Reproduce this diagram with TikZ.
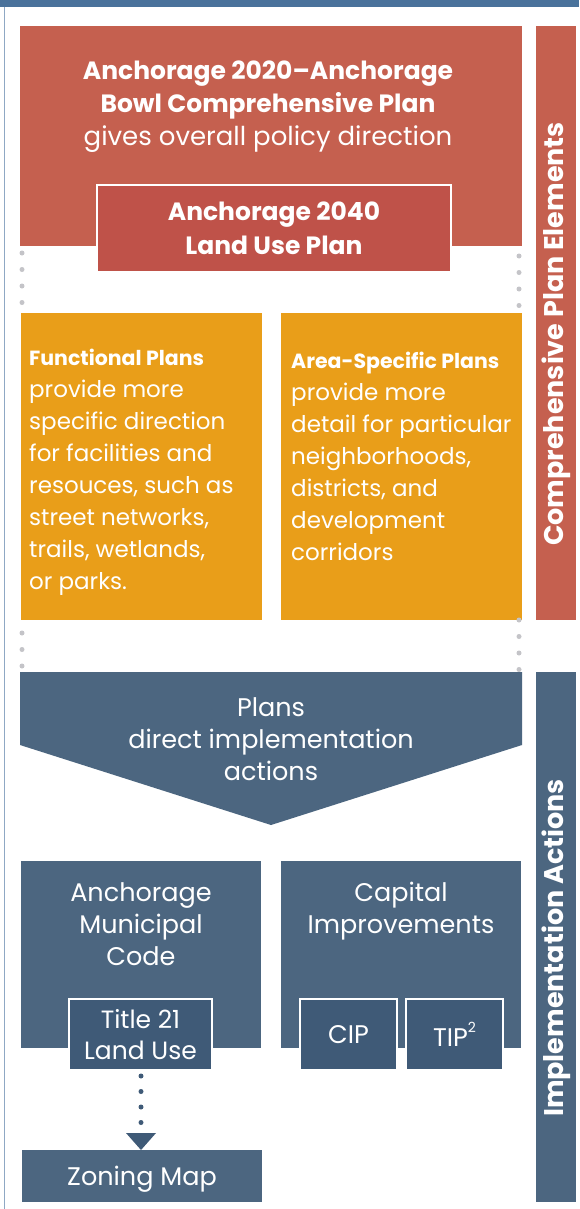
\documentclass[tikz,border=0pt]{standalone}
\usepackage{fontspec}
\setmainfont{Poppins}
\definecolor{topblue}{HTML}{4A729B}
\definecolor{edgeblue}{HTML}{8FA8C4}
\definecolor{redmain}{HTML}{C5604F}
\definecolor{redin}{HTML}{BF5249}
\definecolor{orange}{HTML}{E99E19}
\definecolor{bluemain}{HTML}{4C6680}
\definecolor{bluein}{HTML}{3F5A77}
\definecolor{dotgray}{HTML}{C4C4C8}
\newcommand{\hd}[1]{{\fontsize{20.5}{32}\selectfont\bfseries #1}}
\begin{document}
\begin{tikzpicture}[x=1pt,y=-1pt,
  blk/.style={rectangle, inner sep=0pt, outer sep=0pt, anchor=north west},
  inbox/.style={blk, draw=white, line width=1.6pt},
  txt/.style={text=white, inner sep=0pt, align=center, font=\fontsize{25.5}{32}\selectfont},
  ltxt/.style={text=white, inner sep=0pt, align=left, anchor=west, font=\fontsize{23}{32}\selectfont},
  side/.style={text=white, inner sep=0pt, rotate=90, font=\fontsize{27}{30}\selectfont\bfseries},
  dotline/.style={draw=dotgray, line width=5pt, line cap=round, dash pattern=on 0pt off 16.5pt},
  bdot/.style={draw=bluein, line width=5pt, line cap=round, dash pattern=on 0pt off 15.5pt},
]
\useasboundingbox (0,0) rectangle (579,1209);
\fill[white] (0,0) rectangle (579,1209);
% frame
\node[blk, fill=topblue, minimum width=579pt, minimum height=7pt] (topbar) at (0,0) {};
\coordinate (lt) at (4.5,7);
\coordinate (lb) at (4.5,1209);
\draw[edgeblue, line width=1.6pt] (lt) -- (lb);

% side bars
\node[blk, fill=redmain, minimum width=40pt, minimum height=594pt] (sidered) at (536,26) {};
\node[side] (sideredtxt) at ([yshift=-11pt]sidered.center) {Comprehensive Plan Elements};
\node[blk, fill=bluemain, minimum width=40pt, minimum height=530pt] (sideblue) at (536,672) {};
\node[side] (sidebluetxt) at ([yshift=-11pt]sideblue.center) {Implementation Actions};

% comprehensive plan
\node[blk, fill=redmain, minimum width=502pt, minimum height=220pt] (comp) at (20,26) {};
\node[txt, font=\fontsize{25}{33}\selectfont] (comptxt) at (268,107) {\textbf{Anchorage 2020–Anchorage}\\\textbf{Bowl Comprehensive Plan}\\{\fontsize{26}{33}\selectfont gives overall policy direction}};
\node[inbox, fill=redin, minimum width=354pt, minimum height=87pt] (lup) at (97,185) {};
\node[txt, font=\fontsize{25}{34}\selectfont\bfseries] (luptxt) at (lup.center) {Anchorage 2040\\Land Use Plan};

% orange plans
\node[blk, fill=orange, minimum width=241pt, minimum height=307pt] (func) at (21,313) {};
\node[blk, fill=orange, minimum width=241pt, minimum height=307pt] (area) at (281,313) {};
\node[ltxt] (functxt) at (29,472) {\hd{Functional Plans}\\provide more\\specific direction\\for facilities and\\resouces, such as\\street networks,\\trails, wetlands,\\or parks.};
\node[ltxt] (areatxt) at (291,456) {\hd{Area-Specific Plans}\\provide more\\detail for particular\\neighborhoods,\\districts, and\\development\\corridors};

% dotted connectors
\coordinate (d1a) at (22,253); \coordinate (d1b) at (22,304);
\coordinate (d2a) at (519,256); \coordinate (d2b) at (519,307);
\coordinate (d3a) at (22,633); \coordinate (d3b) at (22,667);
\coordinate (d4a) at (519,620); \coordinate (d4b) at (519,670);
\draw[dotline] (d1a) -- (d1b);
\draw[dotline] (d2a) -- (d2b);
\draw[dotline] (d3a) -- (d3b);
\draw[dotline] (d4a) -- (d4b);

% plans arrow
\fill[bluemain] (20,672) -- (522,672) -- (522,745) -- (271,825) -- (20,745) -- cycle;
\node[txt] (planstxt) at (271,739) {Plans\\direct implementation\\actions};

% code
\node[blk, fill=bluemain, minimum width=240pt, minimum height=187pt] (code) at (21,861) {};
\node[txt] (codetxt) at (141,924) {Anchorage\\Municipal\\Code};
\node[inbox, fill=bluein, minimum width=143pt, minimum height=71pt] (t21) at (69,999) {};
\node[txt, font=\fontsize{25}{31}\selectfont] (t21txt) at (t21.center) {Title 21\\Land Use};

% capital
\node[blk, fill=bluemain, minimum width=240pt, minimum height=187pt] (cap) at (281,861) {};
\node[txt] (captxt) at (401,911) {Capital\\Improvements};
\node[inbox, fill=bluein, minimum width=97pt, minimum height=71pt] (cip) at (300,999) {};
\node[txt] (ciptxt) at (cip.center) {CIP};
\node[inbox, fill=bluein, minimum width=97pt, minimum height=71pt] (tip) at (406,999) {};
\node[txt] (tiptxt) at (tip.center) {TIP\raisebox{0.55em}{\fontsize{14}{14}\selectfont 2}};

% zoning
\node[blk, fill=bluemain, minimum width=240pt, minimum height=52pt] (zone) at (22,1150) {};
\node[txt] (zonetxt) at ([yshift=-3pt]zone.center) {Zoning Map};
\coordinate (za) at (141,1076);
\coordinate (zb) at (141,1124);
\draw[bdot] (za) -- (zb);
\fill[bluein] (126,1133) -- (156,1133) -- (zone.north -| 141,1150) -- cycle;
\end{tikzpicture}
\end{document}
